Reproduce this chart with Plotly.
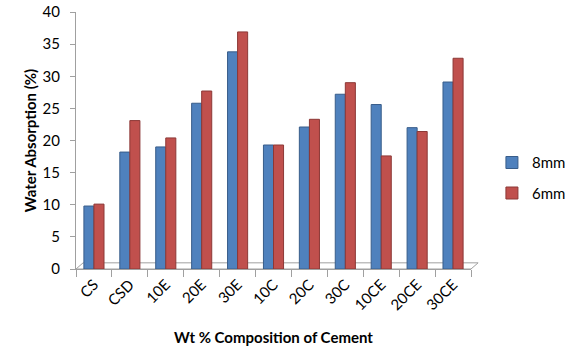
import plotly.graph_objects as go

categories = ["CS", "CSD", "10E", "20E", "30E", "10C", "20C", "30C", "10CE", "20CE", "30CE"]
series_8mm = [9.8, 18.2, 19.0, 25.8, 33.8, 19.3, 22.1, 27.2, 25.6, 22.0, 29.1]
series_6mm = [10.1, 23.1, 20.4, 27.7, 36.9, 19.3, 23.3, 29.0, 17.6, 21.4, 32.8]
y_ticks = [0, 5, 10, 15, 20, 25, 30, 35, 40]

FONT = "Lato, 'Liberation Sans', sans-serif"
BLUE = "#4F81BD"
RED = "#C0504D"

fig = go.Figure()
fig.add_trace(go.Bar(name="8mm", x=categories, y=series_8mm, legendgroup="a",
                     marker=dict(color=BLUE, line=dict(color="#385D8A", width=1))))
fig.add_trace(go.Bar(name="6mm", x=categories, y=series_6mm, legendgroup="b",
                     marker=dict(color=RED, line=dict(color="#8C3836", width=1))))

# 3D-like floor outline
floor = dict(type="path", xref="paper", yref="paper",
             path="M 0,0 L 0.018,0.024 L 1.018,0.024 L 1,0 Z",
             line=dict(color="#A0A0A0", width=1), fillcolor="rgba(0,0,0,0)", layer="below")

fig.update_layout(
    width=568, height=358,
    margin=dict(l=76, r=97, t=12, b=89, autoexpand=False),
    paper_bgcolor="white", plot_bgcolor="white",
    font=dict(family=FONT, size=14, color="black"),
    barmode="group", bargap=0.44, bargroupgap=0.0,
    shapes=[floor],
    legend=dict(x=1.053, y=0.355, xanchor="left", yanchor="middle",
                font=dict(size=15, family=FONT), itemwidth=30,
                tracegroupgap=8),
    xaxis=dict(
        automargin=False,
        showline=True, linecolor="#A0A0A0", linewidth=1,
        ticks="outside", ticklen=7, tickcolor="#A0A0A0",
        tickson="boundaries", tickangle=-45,
        tickfont=dict(size=15, family=FONT),
        title=dict(text="<b>Wt % Composition of Cement</b>", font=dict(size=15, family=FONT),
                   standoff=20),
        showgrid=False, zeroline=False,
    ),
    yaxis=dict(
        automargin=False,
        range=[0, 40], tickvals=y_ticks,
        showline=True, linecolor="#A0A0A0", linewidth=1,
        ticks="outside", ticklen=5, tickcolor="#A0A0A0",
        ticklabelstandoff=7,
        tickfont=dict(size=15, family=FONT),
        title=dict(text="<b>Water Absorption (%)</b>", font=dict(size=15, family=FONT),
                   standoff=2),
        showgrid=False, zeroline=False,
    ),
)

fig.write_html("out.html", config={"displayModeBar": False},
               post_script="document.body.style.margin='0';")
